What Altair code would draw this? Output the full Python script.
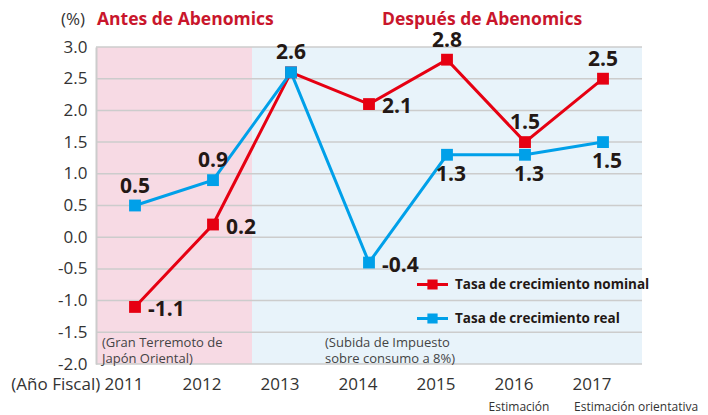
import altair as alt
import pandas as pd

years = [2011, 2012, 2013, 2014, 2015, 2016, 2017]
nominal = [-1.1, 0.2, 2.6, 2.1, 2.8, 1.5, 2.5]
real = [0.5, 0.9, 2.6, -0.4, 1.3, 1.3, 1.5]
nominal_side = ["right", "right", "above", "right", "above", "above", "above"]
real_side = ["above", "above", "none", "right", "below", "below", "below"]
series_names = ["Tasa de crecimiento nominal", "Tasa de crecimiento real"]
series_colors = ["#e60012", "#00a0e9"]
y_ticks = [-2.0, -1.5, -1.0, -0.5, 0.0, 0.5, 1.0, 1.5, 2.0, 2.5, 3.0]
period_start = [2010.5, 2012.5]
period_end = [2012.5, 2017.5]
period_colors = ["#f7dae4", "#e8f3fa"]
period_titles = ["Antes de Abenomics", "Después de Abenomics"]
sub_years = [2016, 2017]
sub_labels = ["Estimación", "Estimación orientativa"]
sub_align = ["center", "left"]
notes = [["(Gran Terremoto de", "Japón Oriental)"], ["(Subida de Impuesto", "sobre consumo a 8%)"]]

FONT = "Open Sans"
W, H = 546, 317
TXT = "#231815"
HYPHEN_FMT = "replace(format(datum.value, '.1f'), '\u2212', '-')"

rows = []
for y, v, s in zip(years, nominal, nominal_side):
    rows.append({"year": y, "value": v, "series": series_names[0], "side": s})
for y, v, s in zip(years, real, real_side):
    rows.append({"year": y, "value": v, "series": series_names[1], "side": s})
df = pd.DataFrame(rows)

xscale = alt.Scale(domain=[2010.5, 2017.5], nice=False, zero=False)
yscale = alt.Scale(domain=[-2, 3], nice=False, zero=False)

x_axis = alt.Axis(values=years, format="d", domain=False, ticks=False, grid=False,
                  labelExpr="datum.value == 2011 ? '(Año Fiscal) 2011' : datum.label",
                  labelAlign="right", labelOffset=8, labelPadding=12, labelOverlap=False,
                  labelFont=FONT, labelFontSize=17, labelColor="#333333")
y_axis = alt.Axis(values=y_ticks, grid=False, ticks=False, labelOverlap=False,
                  labelExpr=HYPHEN_FMT,
                  domainColor="#cccccc", domainWidth=2, zindex=1,
                  labelPadding=9, labelFont=FONT, labelFontSize=17, labelColor="#333333")


def X(field):
    return alt.X(field, scale=xscale, title=None, axis=x_axis)


def Y(field):
    return alt.Y(field, scale=yscale, title=None, axis=y_axis)


bg_df = pd.DataFrame({"x": period_start, "x2": period_end, "c": period_colors})
bg = alt.Chart(bg_df).mark_rect().encode(
    x=X("x:Q"), x2="x2:Q",
    y=alt.value(0), y2=alt.value(H),
    color=alt.Color("c:N", scale=None))

grid = alt.Chart(pd.DataFrame({"t": y_ticks})).mark_rule(color="#cccccc", strokeWidth=1.5).encode(
    y=Y("t:Q"))

lines = alt.Chart(df).mark_line(strokeWidth=3).encode(
    x=X("year:Q"), y=Y("value:Q"),
    stroke=alt.Stroke("series:N", scale=alt.Scale(domain=series_names, range=series_colors), legend=None))

legend = alt.Legend(title=None, orient="none", legendX=321, legendY=222, padding=0,
                    symbolType="M-1,-0.1H1V0.1H-1Z M-0.33,-0.33H0.33V0.33H-0.33Z",
                    symbolSize=961, symbolStrokeWidth=0, symbolOpacity=1,
                    labelFont=FONT, labelFontSize=13.5, labelFontWeight="bold", labelColor=TXT,
                    labelOffset=7, rowPadding=12, labelLimit=300)
points = alt.Chart(df).mark_point(shape="square", filled=True, size=140, opacity=1).encode(
    x=X("year:Q"), y=Y("value:Q"),
    color=alt.Color("series:N", scale=alt.Scale(domain=series_names, range=series_colors), legend=legend))


def labels(side, **kw):
    return alt.Chart(df).transform_filter(alt.datum.side == side).transform_calculate(
        lab=HYPHEN_FMT).mark_text(
        font=FONT, fontSize=21, fontWeight="bold", color=TXT, baseline="middle", **kw).encode(
        x=X("year:Q"), y=Y("value:Q"), text="lab:N")


lab_above = labels("above", align="center", dy=-19)
lab_below = labels("below", align="center", dy=20, dx=4)
lab_right = labels("right", align="left", dx=13, dy=3)

sub_df = pd.DataFrame({"year": sub_years, "t": sub_labels, "a": sub_align})
sub1 = alt.Chart(sub_df).transform_filter(alt.datum.a == "center").mark_text(
    font=FONT, fontSize=12, color="#333333", align="center", baseline="middle", dx=-6).encode(
    x=X("year:Q"), y=alt.value(H + 43), text="t:N")
sub2 = alt.Chart(sub_df).transform_filter(alt.datum.a == "left").mark_text(
    font=FONT, fontSize=12, color="#333333", align="left", baseline="middle", dx=-29).encode(
    x=X("year:Q"), y=alt.value(H + 43), text="t:N")

title_df = pd.DataFrame({"t": period_titles, "px": [1, 286]})
titles = alt.Chart(title_df).mark_text(
    font=FONT, fontSize=17.5, fontWeight="bold", color="#c9162c", align="left", baseline="middle").encode(
    x=alt.X("px:Q", scale=None), y=alt.value(-27), text="t:N")

pct = alt.Chart(pd.DataFrame({"t": ["(%)"]})).mark_text(
    font=FONT, fontSize=17, color="#333333", align="center", baseline="middle").encode(
    x=alt.value(-23), y=alt.value(-27), text="t:N")

note_df = pd.DataFrame({"t": notes, "px": [6, 229]})
note_text = alt.Chart(note_df).mark_text(
    font=FONT, fontSize=13, color="#444444", align="left", baseline="middle", lineHeight=16).encode(
    x=alt.X("px:Q", scale=None), y=alt.value(H - 21), text="t")

chart = alt.layer(bg, grid, lines, points, lab_above, lab_below, lab_right, sub1, sub2,
                  titles, pct, note_text).resolve_scale(color="independent").properties(
    width=W, height=H,
    autosize=alt.AutoSizeParams(type="none"),
    padding={"left": 88, "top": 39, "right": 58, "bottom": 52},
).configure_view(stroke=None)

chart.save("out.html", embed_options={"renderer": "svg", "actions": False})
